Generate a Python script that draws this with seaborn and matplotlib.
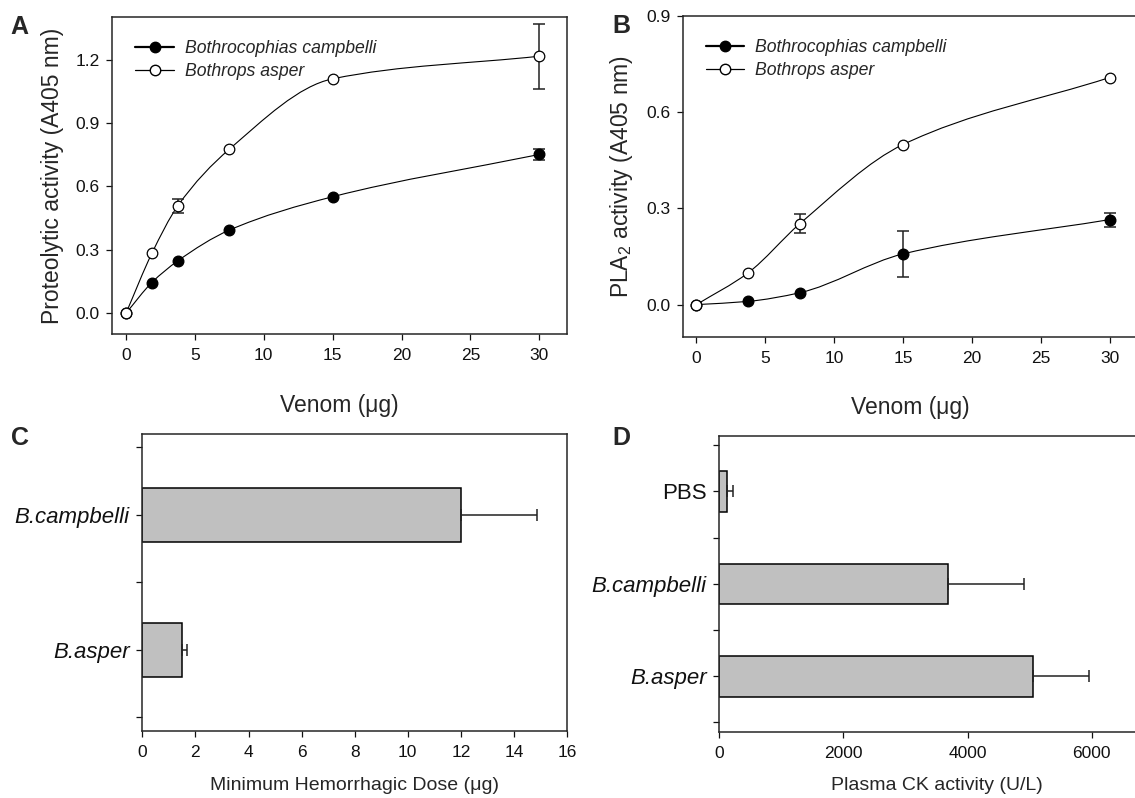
import numpy as np
import pandas as pd
import seaborn as sns
import matplotlib.pyplot as plt
from matplotlib.path import Path
from matplotlib.patches import PathPatch
from matplotlib.lines import Line2D

# Panel A - proteolytic activity
dose_a = [0, 1.875, 3.75, 7.5, 15, 30]
prot_campbelli = [0.0, 0.145, 0.247, 0.393, 0.551, 0.751]
prot_campbelli_sd = [0, 0, 0, 0, 0, 0.025]
prot_asper = [0.0, 0.283, 0.507, 0.776, 1.109, 1.216]
prot_asper_sd = [0, 0, 0.033, 0, 0, 0.153]

# Panel B - PLA2 activity
dose_b = [0, 3.75, 7.5, 15, 30]
pla2_campbelli = [0.0, 0.010, 0.037, 0.158, 0.265]
pla2_campbelli_sd = [0, 0, 0, 0.073, 0.022]
pla2_asper = [0.0, 0.099, 0.252, 0.499, 0.708]
pla2_asper_sd = [0, 0, 0.03, 0, 0]

# Panel C - minimum hemorrhagic dose
mhd_labels = ['B.campbelli', 'B.asper']
mhd_values = [12.0, 1.5]
mhd_sd = [2.86, 0.18]

# Panel D - plasma CK
ck_labels = ['PBS', 'B.campbelli', 'B.asper']
ck_values = [124, 3680, 5055]
ck_sd = [106, 1228, 905]

legend_names = ['Bothrocophias campbelli', 'Bothrops asper']

sns.set_style('ticks')
plt.rcParams['font.family'] = ['Liberation Sans', 'DejaVu Sans']
plt.rcParams['mathtext.default'] = 'regular'
plt.rcParams['axes.linewidth'] = 1.1
plt.rcParams['xtick.major.width'] = 0.9
plt.rcParams['ytick.major.width'] = 0.9
plt.rcParams['ytick.minor.width'] = 0.9
plt.rcParams['xtick.major.size'] = 4
plt.rcParams['ytick.major.size'] = 4
plt.rcParams['ytick.minor.size'] = 4
plt.rcParams['xtick.major.pad'] = 6
plt.rcParams['ytick.major.pad'] = 5
plt.rcParams['xtick.labelsize'] = 12.5
plt.rcParams['ytick.labelsize'] = 12.5
plt.rcParams['xtick.color'] = '#111111'
plt.rcParams['ytick.color'] = '#111111'


def smooth_curve(ax, x, y):
    # monotone cubic curve through the points, drawn as a bezier path
    x = np.asarray(x, float)
    y = np.asarray(y, float)
    h = np.diff(x)
    d = np.diff(y) / h
    n = len(x)
    m = np.zeros(n)
    for i in range(1, n - 1):
        if d[i - 1] * d[i] > 0:
            w1 = 2 * h[i] + h[i - 1]
            w2 = h[i] + 2 * h[i - 1]
            m[i] = (w1 + w2) / (w1 / d[i - 1] + w2 / d[i])
    m[0] = d[0]
    m[-1] = d[-1]
    verts = [(x[0], y[0])]
    codes = [Path.MOVETO]
    for i in range(n - 1):
        verts += [(x[i] + h[i] / 3, y[i] + m[i] * h[i] / 3),
                  (x[i + 1] - h[i] / 3, y[i + 1] - m[i + 1] * h[i] / 3),
                  (x[i + 1], y[i + 1])]
        codes += [Path.CURVE4] * 3
    ax.add_patch(PathPatch(Path(verts, codes), fill=False, edgecolor='black',
                           lw=0.8, zorder=2))


def curve_panel(ax, x, series, sds):
    styles = [('black', 1.0), ('white', 0.9)]
    for y, sd, (fc, lw) in zip(series, sds, styles):
        smooth_curve(ax, x, y)
        xs = [a for a, s in zip(x, sd) if s > 0]
        ys = [b for b, s in zip(y, sd) if s > 0]
        ss = [s for s in sd if s > 0]
        ax.errorbar(xs, ys, yerr=ss, fmt='none', ecolor='#222222',
                    elinewidth=1.1, capsize=4, capthick=1.1, zorder=2.5)
        df = pd.DataFrame({'dose': x, 'val': y})
        sns.scatterplot(data=df, x='dose', y='val', ax=ax, s=58, color=fc,
                        edgecolor='black', linewidth=lw, zorder=3)
    handles = [Line2D([], [], color='black', lw=1.6, marker='o', markersize=7.5,
                      markerfacecolor='black', markeredgecolor='black'),
               Line2D([], [], color='black', lw=0.9, marker='o', markersize=7.5,
                      markerfacecolor='white', markeredgecolor='black')]
    ax.legend(handles, legend_names, loc='upper left', frameon=False,
              prop={'style': 'italic', 'size': 12.7}, handlelength=2.2,
              handletextpad=0.6, labelspacing=0.35, borderaxespad=0.9)
    ax.set_xlim(-1, 32)
    ax.set_xticks(range(0, 31, 5))
    ax.set_xlabel('Venom (μg)', fontsize=16.5, labelpad=22)
    for s in ax.spines.values():
        s.set_visible(True)


def bar_panel(ax, labels, values, sds, width):
    df = pd.DataFrame({'grp': labels, 'val': values})
    sns.barplot(data=df, x='val', y='grp', orient='h', ax=ax, color='#c0c0c0',
                saturation=1, edgecolor='black', linewidth=1.1, width=width,
                errorbar=None)
    pos = np.arange(len(labels))
    ax.errorbar(values, pos, xerr=[np.zeros(len(sds)), sds], fmt='none',
                ecolor='#222222', elinewidth=1.1, capsize=4, capthick=1.1)
    ax.set_ylim(len(labels) - 0.4, -0.6)
    ax.set_yticks(pos)
    ax.set_yticks(np.arange(len(labels) + 1) - 0.5, minor=True)
    ax.set_yticklabels(labels, fontsize=16)
    for lbl in ax.get_yticklabels():
        lbl.set_style('normal' if lbl.get_text() == 'PBS' else 'italic')
    ax.set_ylabel('')
    for s in ax.spines.values():
        s.set_visible(True)


fig = plt.figure(figsize=(11.35, 7.98), dpi=100)

ax_a = fig.add_axes([0.0989, 0.5811, 0.4006, 0.3972])
curve_panel(ax_a, dose_a, [prot_campbelli, prot_asper],
            [prot_campbelli_sd, prot_asper_sd])
ax_a.set_ylim(-0.1, 1.4)
ax_a.set_yticks([0.0, 0.3, 0.6, 0.9, 1.2])
ax_a.set_yticklabels(['0.0', '0.3', '0.6', '0.9', '1.2'])
ax_a.set_ylabel('Proteolytic activity (A405 nm)', fontsize=16.5, labelpad=8)

ax_b = fig.add_axes([0.6015, 0.5781, 0.4003, 0.4019])
curve_panel(ax_b, dose_b, [pla2_campbelli, pla2_asper],
            [pla2_campbelli_sd, pla2_asper_sd])
ax_b.set_ylim(-0.1, 0.9)
ax_b.set_yticks([0.0, 0.3, 0.6, 0.9])
ax_b.set_yticklabels(['0.0', '0.3', '0.6', '0.9'])
ax_b.set_ylabel('PLA$_2$ activity (A405 nm)', fontsize=16.5, labelpad=8)

ax_c = fig.add_axes([0.1254, 0.0840, 0.3742, 0.3722])
bar_panel(ax_c, mhd_labels, mhd_values, mhd_sd, 0.4)
ax_c.set_xlim(0, 16)
ax_c.set_xticks(range(0, 17, 2))
ax_c.set_xlabel('Minimum Hemorrhagic Dose (μg)', fontsize=14, labelpad=12)

ax_d = fig.add_axes([0.6336, 0.0831, 0.3830, 0.3705])
bar_panel(ax_d, ck_labels, ck_values, ck_sd, 0.44)
ax_d.set_xlim(0, 7000)
ax_d.set_xticks([0, 2000, 4000, 6000])
ax_d.set_xlabel('Plasma CK activity (U/L)', fontsize=14, labelpad=12)

for letter, (px, py) in zip('ABCD', [(10, 15), (612, 14), (11, 426), (612, 426)]):
    fig.text(px / 1135, 1 - py / 798, letter, fontsize=18, fontweight='bold',
             ha='left', va='top')

fig.savefig('out.png', dpi=100)
